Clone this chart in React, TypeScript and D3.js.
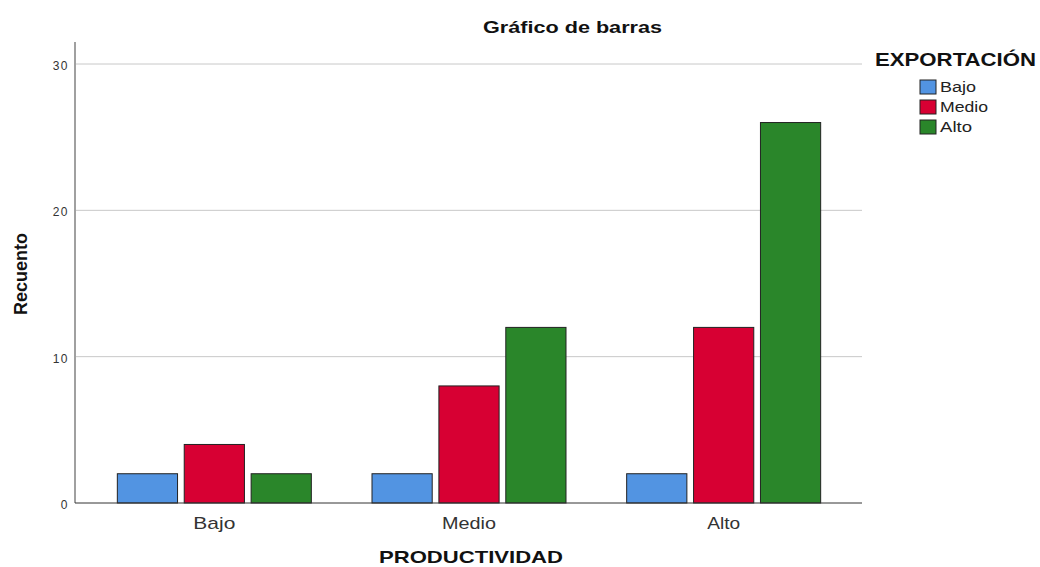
import React from "react";
import * as d3 from "d3";

const categories = ["Bajo", "Medio", "Alto"];
const series = ["Bajo", "Medio", "Alto"];
const colors = ["#5294e2", "#d70033", "#2a862a"];
const valuesBajo = [2, 2, 2];
const valuesMedio = [4, 8, 12];
const valuesAlto = [2, 12, 26];
const yTicks = [0, 10, 20, 30];

const seriesValues = [valuesBajo, valuesMedio, valuesAlto];
const catLabelLen: Record<string, number> = { Bajo: 42, Medio: 54, Alto: 33 };
const legLabelLen: Record<string, number> = { Bajo: 36, Medio: 48, Alto: 32 };

export default function App() {
  const W = 1040, H = 567;
  const left = 75, right = 862, top = 42, bottom = 503;
  const y = d3.scaleLinear().domain([0, 30]).range([bottom, 64]);
  const x0 = d3.scaleBand<string>().domain(categories).range([87, 851]).padding(0);
  const x1 = d3.scaleBand<string>().domain(series).range([-97, 97]).paddingInner(0.1).paddingOuter(0);
  const font = "'Liberation Sans', Arial, sans-serif";

  return (
    <svg width={W} height={H} style={{ position: "absolute", left: 0, top: 0, background: "#fff" }} fontFamily={font}>
      <text x={483} y={33} fontSize={17} fontWeight="bold" fill="#111" textLength={179} lengthAdjust="spacingAndGlyphs">Gráfico de barras</text>
      {yTicks.map((t) => (
        <g key={t}>
          {t > 0 && <line x1={left} x2={right} y1={y(t)} y2={y(t)} stroke="#c8c8c8" strokeWidth={1} />}
          <text x={69} y={y(t) + 6} textAnchor="end" fontSize={12} fill="#333" letterSpacing={1.5}>{t}</text>
        </g>
      ))}
      <line x1={left} x2={left} y1={top} y2={bottom} stroke="#a0a0a0" strokeWidth={2} />
      {categories.map((c, ci) => (
        <g key={c}>
          {series.map((s, si) => {
            const v = seriesValues[si][ci];
            const bx = (x0(c)! + x0.bandwidth() / 2) + x1(s)!;
            return (
              <rect key={s} x={bx} y={y(v)} width={x1.bandwidth()} height={y(0) - y(v)}
                fill={colors[si]} stroke="#222" strokeWidth={1} />
            );
          })}
          <text x={x0(c)! + x0.bandwidth() / 2 - catLabelLen[c] / 2} y={529} fontSize={17} fill="#333"
            textLength={catLabelLen[c]} lengthAdjust="spacingAndGlyphs">{c}</text>
        </g>
      ))}
      <line x1={left} x2={right} y1={bottom} y2={bottom} stroke="#333" strokeWidth={1} />
      <text x={379} y={563} fontSize={17} fontWeight="bold" fill="#111" textLength={184} lengthAdjust="spacingAndGlyphs">PRODUCTIVIDAD</text>
      <text transform={`translate(27,${274}) rotate(-90)`} textAnchor="middle" fontSize={18} fontWeight="bold" fill="#111">Recuento</text>
      <text x={875} y={66} fontSize={18} fontWeight="bold" fill="#111" textLength={161} lengthAdjust="spacingAndGlyphs">EXPORTACIÓN</text>
      {series.map((s, i) => (
        <g key={s}>
          <rect x={920} y={80 + i * 20} width={16} height={14} fill={colors[i]} stroke="#222" />
          <text x={940} y={92 + i * 20} fontSize={14} fill="#222" textLength={legLabelLen[s]} lengthAdjust="spacingAndGlyphs">{s}</text>
        </g>
      ))}
    </svg>
  );
}
